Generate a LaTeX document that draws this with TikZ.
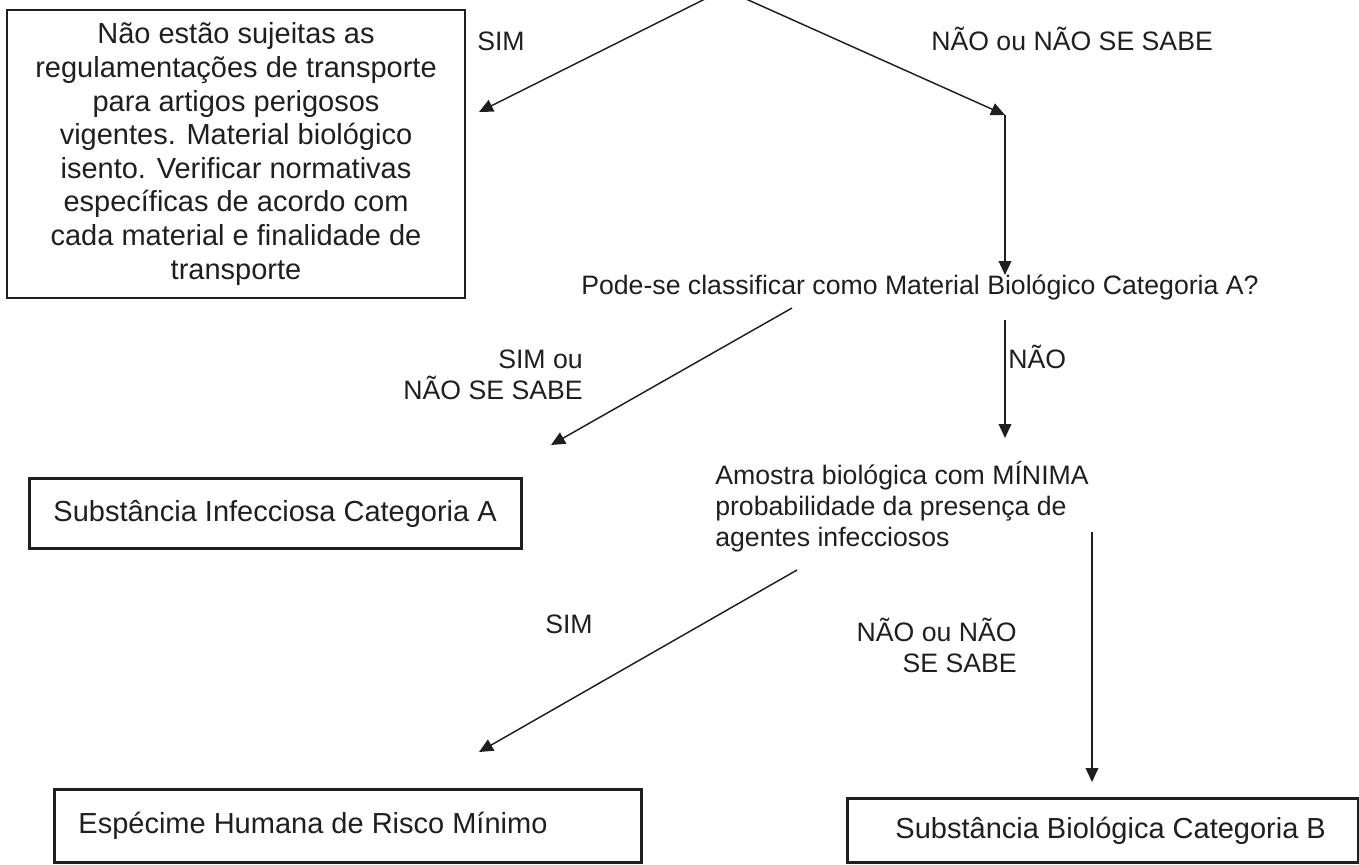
\documentclass[tikz,border=0pt]{standalone}
\usepackage{fontspec}
\setmainfont{Liberation Sans}
\usetikzlibrary{arrows.meta}
\begin{document}
\begin{tikzpicture}[x=0.75pt,y=-0.75pt,
  box/.style={draw=black!88, line width=2.2pt, inner ysep=0pt, text=black!88,
              font=\fontsize{21.75}{25}\selectfont},
  lbl/.style={inner sep=0pt, font=\fontsize{20}{23.3}\selectfont, text=black!88},
  conn/.style={draw=black!88, line width=1.1pt, -{Triangle[length=10.5pt,width=9.5pt]}}]
\useasboundingbox (0,0) rectangle (1359,864);

% boxes
\node[box, align=center, minimum width=343.5pt, minimum height=216pt,
      font=\fontsize{21.75}{25.2}\selectfont] (isento) at (236,154)
  {Não estão sujeitas as\\regulamentações de transporte\\para artigos perigosos\\vigentes. Material biológico\\isento. Verificar normativas\\específicas de acordo com\\cada material e finalidade de\\transporte};

\node[box, anchor=north west, minimum height=52.5pt, inner xsep=18pt]
  (catA) at (28,477) {\makebox[333pt][l]{Substância Infecciosa Categoria A}};

\node[box, anchor=north west, minimum height=55pt, inner xsep=18pt]
  (especime) at (53,788) {\makebox[404pt][l]{Espécime Humana de Risco Mínimo}};

\node[box, anchor=north west, minimum height=48pt, inner xsep=36pt]
  (catB) at (846,797) {\makebox[311pt][l]{Substância Biológica Categoria B}};

% labels
\node[lbl, anchor=mid west] (sim1) at (477,47) {SIM};
\node[lbl, anchor=mid west] (nao1) at (931,47) {NÃO ou NÃO SE SABE};
\node[lbl, anchor=mid west] (q2) at (581,291) {Pode-se classificar como Material Biológico Categoria A?};
\node[lbl, anchor=east, align=right] (simnss) at (583,375) {SIM ou\\NÃO SE SABE};
\node[lbl, anchor=mid west] (nao2) at (1008,365) {NÃO};
\node[lbl, anchor=west, align=left] (amostra) at (715,507)
  {Amostra biológica com MÍNIMA\\probabilidade da presença de\\agentes infecciosos};
\node[lbl, anchor=mid west] (sim3) at (545,630) {SIM};
\node[lbl, anchor=east, align=right] (nao3) at (1017,645) {NÃO ou NÃO\\SE SABE};

% connector points
\coordinate (t1) at (705,-1);
\coordinate (t1e) at (479,112);
\coordinate (t2) at (746,-1);
\coordinate (k1) at (1005,115);
\coordinate (k1e) at (1005,275);
\coordinate (q2l) at (792,308);
\coordinate (q2le) at (551,445);
\coordinate (q2r) at (1005,320);
\coordinate (q2re) at (1005,438);
\coordinate (am1) at (797,570);
\coordinate (am1e) at (479,752);
\coordinate (am2) at (1092,532);
\coordinate (am2e) at (1092,782);

\draw[conn] (t1) -- (t1e);
\draw[conn] (t2) -- (k1);
\draw[conn] (k1) -- (k1e);
\draw[conn] (q2l) -- (q2le);
\draw[conn] (q2r) -- (q2re);
\draw[conn] (am1) -- (am1e);
\draw[conn] (am2) -- (am2e);
\end{tikzpicture}
\end{document}
